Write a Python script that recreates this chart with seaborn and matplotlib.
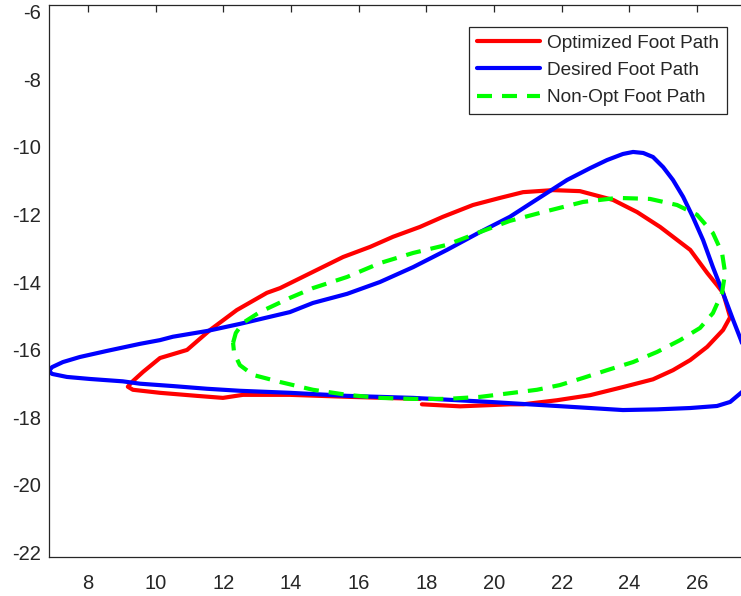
import numpy as np
import pandas as pd
import matplotlib
matplotlib.use("Agg")
import matplotlib.pyplot as plt
from matplotlib.lines import Line2D
import seaborn as sns

# Optimized foot path (x, y), traced as one loop
opt_x = [17.87, 19.00, 20.47, 20.86, 21.86, 22.84, 23.81, 24.70, 25.29, 25.80,
         26.30, 26.77, 26.98, 26.77, 26.59, 26.30, 25.80, 24.91, 24.23, 23.52,
         22.54, 21.75, 20.86, 20.18, 19.38, 18.49, 17.81, 17.02, 16.34, 15.54,
         14.65, 13.68, 13.29, 12.40, 11.61, 10.93, 10.13, 9.63, 9.30, 9.18,
         9.33, 10.13, 11.22, 11.99, 12.58, 13.97, 15.74, 17.81]
opt_y = [-17.62, -17.68, -17.62, -17.62, -17.50, -17.35, -17.11, -16.88, -16.61, -16.31,
         -15.92, -15.42, -15.04, -14.32, -14.09, -13.73, -13.05, -12.37, -11.93, -11.57,
         -11.31, -11.28, -11.34, -11.51, -11.72, -12.07, -12.37, -12.66, -12.96, -13.26,
         -13.70, -14.18, -14.32, -14.83, -15.42, -16.01, -16.25, -16.66, -16.96, -17.10,
         -17.19, -17.28, -17.37, -17.43, -17.34, -17.34, -17.40, -17.46]

# Desired foot path
des_x = [6.85, 6.94, 7.26, 7.76, 8.56, 9.54, 10.13, 10.51, 11.52, 12.49,
         13.97, 14.65, 15.66, 16.63, 17.61, 18.61, 19.59, 20.47, 21.15, 22.16,
         22.84, 23.34, 23.81, 24.11, 24.41, 24.70, 25.00, 25.29, 25.59, 25.88,
         26.18, 26.47, 26.77, 27.07, 27.30, 27.50, 27.62, 27.58, 27.45, 27.30,
         26.98, 26.59, 25.80, 24.82, 23.81, 22.84, 21.86, 20.86, 19.88, 17.61,
         15.66, 13.97, 12.49, 11.52, 10.51, 9.54, 9.03, 8.06, 7.38, 6.94, 6.85]
des_y = [-16.63, -16.52, -16.37, -16.22, -16.04, -15.83, -15.72, -15.62, -15.45, -15.24,
         -14.89, -14.62, -14.35, -14.00, -13.56, -13.05, -12.52, -12.07, -11.63, -10.98,
         -10.63, -10.39, -10.21, -10.15, -10.18, -10.30, -10.60, -10.98, -11.48, -12.08,
         -12.76, -13.56, -14.33, -15.13, -15.72, -16.30, -16.80, -17.00, -17.15, -17.28,
         -17.55, -17.67, -17.73, -17.77, -17.79, -17.73, -17.67, -17.61, -17.55, -17.43,
         -17.37, -17.28, -17.22, -17.16, -17.08, -17.01, -16.94, -16.87, -16.81, -16.72, -16.63]

# Non-optimized foot path
non_x = [12.29, 12.37, 12.58, 13.08, 13.97, 14.65, 15.66, 16.63, 17.61, 18.61,
         19.59, 20.47, 21.45, 22.63, 23.64, 24.61, 25.41, 26.00, 26.47, 26.74,
         26.83, 26.74, 26.47, 26.09, 25.50, 24.82, 24.11, 23.34, 22.63, 21.95,
         21.27, 20.56, 19.59, 18.61, 17.61, 16.63, 15.66, 14.65, 13.68, 12.88,
         12.49, 12.32, 12.29]
non_y = [-15.80, -15.51, -15.21, -14.89, -14.47, -14.18, -13.85, -13.44, -13.14, -12.90,
         -12.52, -12.19, -11.93, -11.63, -11.51, -11.54, -11.72, -12.01, -12.55, -13.14,
         -13.73, -14.32, -14.92, -15.36, -15.72, -16.07, -16.37, -16.61, -16.84, -17.05,
         -17.19, -17.28, -17.40, -17.46, -17.46, -17.43, -17.34, -17.19, -16.96, -16.75,
         -16.46, -16.10, -15.80]

labels = ["Optimized Foot Path", "Desired Foot Path", "Non-Opt Foot Path"]
x_ticks = [8, 10, 12, 14, 16, 18, 20, 22, 24, 26]
y_ticks = [-22, -20, -18, -16, -14, -12, -10, -8, -6]

frames = []
for name, xs, ys in zip(labels, [opt_x, des_x, non_x], [opt_y, des_y, non_y]):
    frames.append(pd.DataFrame({"x": xs, "y": ys, "path": name}))
df = pd.concat(frames, ignore_index=True)

sns.set_theme(style="white")
plt.rcParams["font.family"] = ["Liberation Sans", "DejaVu Sans"]
plt.rcParams["axes.unicode_minus"] = False

fig = plt.figure(figsize=(7.41, 5.96), dpi=100)
ax = fig.add_axes([49 / 741, 39 / 596, 1 - 49 / 741, (557 - 5) / 596])

sns.lineplot(data=df, x="x", y="y", hue="path", style="path",
             hue_order=labels, style_order=labels,
             palette=["#ff0000", "#0000ff", "#00ff00"],
             dashes=[(None, None), (None, None), (3.6, 2.4)],
             sort=False, estimator=None, units="path",
             linewidth=3, ax=ax, legend=False)

for line in ax.get_lines():
    line.set_dash_capstyle("butt")
    line.set_solid_joinstyle("round")

ax.set_xlim(6.85, 27.3)
ax.set_ylim(-22.14, -5.8)
ax.set_xticks(x_ticks)
ax.set_yticks(y_ticks)
ax.set_xlabel("")
ax.set_ylabel("")

axis_col = "#262626"
for side in ["left", "bottom", "top"]:
    ax.spines[side].set_color(axis_col)
    ax.spines[side].set_linewidth(0.9)
ax.spines["right"].set_visible(False)
ax.tick_params(direction="in", length=5, width=0.9, colors=axis_col,
               labelsize=14.5, top=True, right=False)
ax.tick_params(axis="y", pad=6)
ax.tick_params(axis="x", pad=12)

handles = [Line2D([], [], color="#ff0000", lw=3),
           Line2D([], [], color="#0000ff", lw=3),
           Line2D([], [], color="#00ff00", lw=3, dashes=(3.6, 2.4), dash_capstyle="butt")]
leg = ax.legend(handles, labels, loc="upper right",
                bbox_to_anchor=(727 / 741, 1 - 27 / 596), bbox_transform=fig.transFigure,
                fontsize=13.7, frameon=True, fancybox=False, framealpha=1,
                handlelength=3.3, handletextpad=0.4, labelspacing=0.52,
                borderpad=0.4, borderaxespad=0)
leg.get_frame().set_edgecolor(axis_col)
leg.get_frame().set_linewidth(0.9)

fig.savefig("out.png", dpi=100)
